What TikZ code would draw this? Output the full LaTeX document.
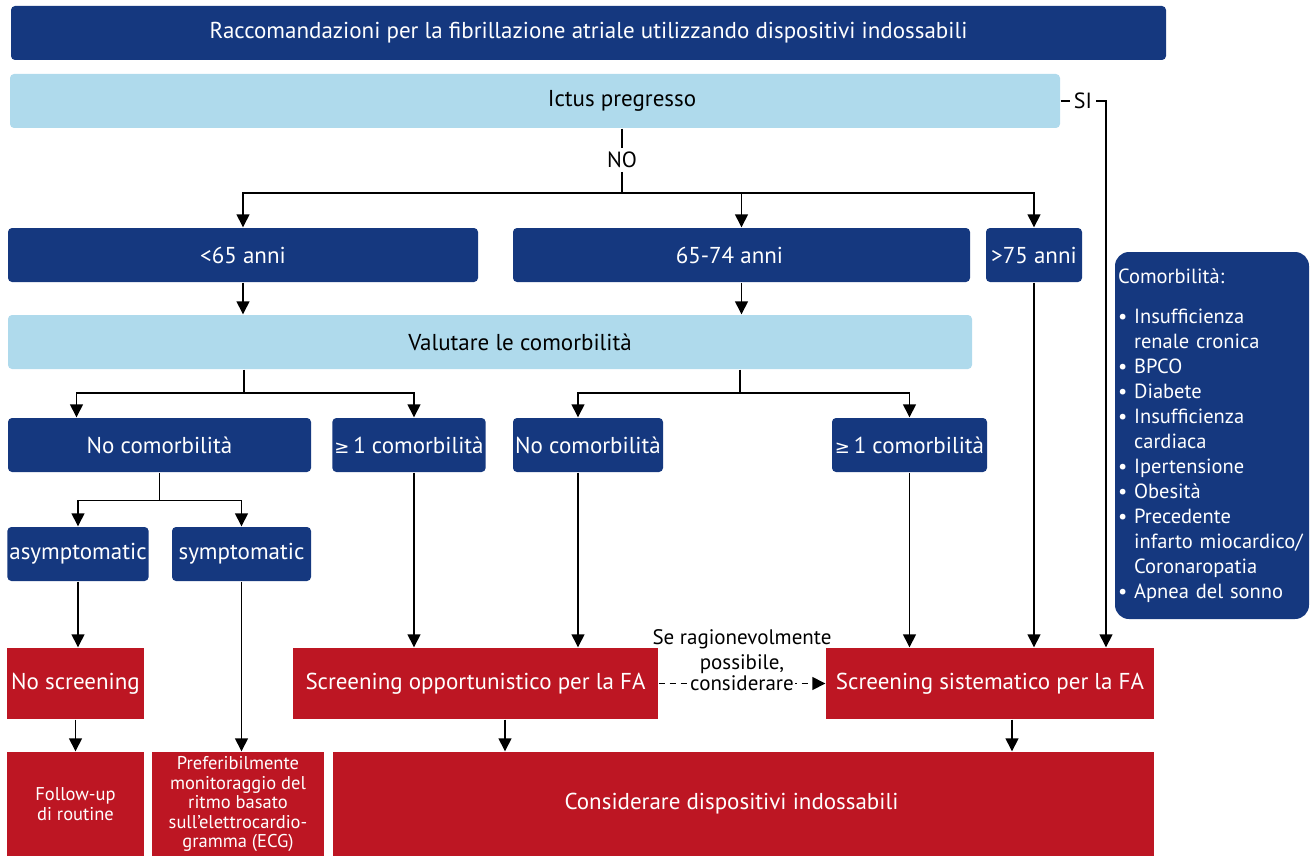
\documentclass[tikz,border=0pt]{standalone}
\usepackage{fontspec}
\setmainfont{PT Sans}
\newfontfamily\symfont{DejaVu Sans}
\usetikzlibrary{positioning,arrows.meta}
\definecolor{escblue}{RGB}{21,56,127}
\definecolor{esclight}{RGB}{175,218,236}
\definecolor{escred}{RGB}{189,22,35}
\tikzset{basic/.style={draw=none,text badly centered,inner sep=2pt,
                       minimum height=54pt,font=\fontsize{23}{27}\selectfont}}
\tikzset{darkbox/.style={basic,fill=escblue,text=white,rounded corners=4pt}}
\newcommand{\combul}{\textbullet\ }
\newcommand{\comind}{\hphantom{\textbullet\ }}

\begin{document}
\begin{tikzpicture}[x=1pt,y=-1pt,
    >={Triangle[length=13pt,width=13pt]},
    % styles for clarity
    lightbox/.style={basic,fill=esclight,text=black,rounded corners=4pt},
    redbox/.style  ={basic,fill=escred,text=white},
    smalltext/.style={font=\fontsize{18.5}{19.5}\selectfont,align=center},
    every path/.style={line width=1.4pt}
  ]
    \useasboundingbox (0,0) rectangle (1314,856);

    \node[darkbox, minimum width=1155pt](title) at (588.5,33)
      {Raccomandazioni per la fibrillazione atriale utilizzando dispositivi indossabili};
    \node[lightbox, minimum width=1050pt](ictus) at (535,101)
      {\hspace*{174pt}Ictus pregresso};

    % age groups
    \node[darkbox, minimum width=470pt](lt65) at (243,255) {<65 anni};
    \node[darkbox, minimum width=457pt](a6574) at (741.5,255) {65-74 anni\hspace*{24pt}};
    \node[darkbox, minimum width=96pt](gt75) at (1034,255) {>75 anni};

    \node[lightbox, minimum width=964pt](val) at (490,342)
      {\hspace*{60pt}Valutare le comorbilità};

    % comorbidity level
    \node[darkbox, minimum width=303pt](nocL) at (159.5,445) {No comorbilità};
    \node[darkbox, minimum width=152pt](oneL) at (409,445) {{\symfont\fontsize{18}{20}\selectfont ≥}\,1 comorbilità};
    \node[darkbox, minimum width=150pt](nocM) at (588,445) {No comorbilità};
    \node[darkbox, minimum width=155pt](oneR) at (909.5,445) {{\symfont\fontsize{18}{20}\selectfont ≥}\,1 comorbilità};

    \node[darkbox, minimum width=140pt](asym) at (78,554) {asymptomatic};
    \node[darkbox, minimum width=139pt](sym) at (241.5,554) {symptomatic};

    % screening
    \node[redbox, minimum width=137pt, minimum height=71pt](nos) at (75.5,683.5) {No screening};
    \node[redbox, minimum width=365pt, minimum height=71pt](opp) at (475.5,683.5)
      {Screening opportunistico per la FA};
    \node[redbox, minimum width=328pt, minimum height=71pt](sist) at (990,683.5)
      {Screening sistematico per la FA};

    \node[redbox, smalltext, minimum width=137pt, minimum height=104pt](fol) at (75.5,804)
      {Follow-up\\di routine};
    \node[redbox, smalltext, minimum width=172pt, minimum height=104pt](pref) at (238,804)
      {Preferibilmente\\monitoraggio del\\ritmo basato\\sull'elettrocardio-\\gramma (ECG)};
    \node[redbox, minimum width=821pt, minimum height=104pt](cons) at (743.5,804)
      {Considerare dispositivi indossabili\hspace*{24pt}};

    % list of comorbidities
    \node[darkbox, rounded corners=14pt, minimum width=194pt, minimum height=367pt,
          text width=188pt, align=left,
          font=\fontsize{20.5}{25}\selectfont](comlist) at (1212,435.5)
      {Comorbilità:\\[15pt]
       \combul Insufficienza\\
       \comind renale cronica\\
       \combul BPCO\\
       \combul Diabete\\
       \combul Insufficienza\\
       \comind cardiaca\\
       \combul Ipertensione\\
       \combul Obesità\\
       \combul Precedente\\
       \comind \mbox{infarto miocardico/}\\
       \comind Coronaropatia\\
       \combul Apnea del sonno};

    % NO / SI branches
    \node[font=\fontsize{22}{24}\selectfont](no) at (622,160) {NO};
    \node[font=\fontsize{22}{24}\selectfont](si) at (1083,101) {SI};

    \draw (ictus.south -| no) -- (no);
    \draw (no) -- ++(0,33) coordinate (s1);
    \draw[->] (s1) -| (lt65);
    \draw[->] (s1) -| (a6574);
    \draw[->] (s1) -| (gt75);

    \draw (ictus.east) -- (si);
    \coordinate (siend) at ([xshift=116pt]sist.north);
    \draw[->] (si) -| (siend);

    % ages to assessment
    \draw[->] (lt65) -- (lt65 |- val.north);
    \draw[->] (a6574) -- (a6574 |- val.north);

    \coordinate (s2) at (244,393);
    \coordinate (s3) at (740,393);
    \coordinate (inL) at ([xshift=-83pt]nocL.north);
    \coordinate (inO) at ([xshift=5pt]oneL.north);
    \coordinate (inM) at ([xshift=-10pt]nocM.north);
    \draw (val.south -| s2) -- (s2);
    \draw[->] (s2) -| (inL);
    \draw[->] (s2) -| (inO);
    \draw (val.south -| s3) -- (s3);
    \draw[->] (s3) -| (inM);
    \draw[->] (s3) -| (oneR);

    % symptoms
    \draw (nocL.south) -- ++(0,28) coordinate (s4);
    \draw[->] (s4) -| (asym);
    \draw[->] (s4) -| (sym);

    % down to screening
    \draw[->] (asym) -- (asym |- nos.north);
    \draw[->] (sym) -- (sym |- pref.north);
    \coordinate (outO) at ([xshift=5pt]oneL.south);
    \coordinate (outM) at ([xshift=-10pt]nocM.south);
    \draw[->] (outO) -- (outO |- opp.north);
    \draw[->] (outM) -- (outM |- opp.north);
    \draw[->] (oneR) -- (oneR |- sist.north);
    \draw[->] (gt75) -- (gt75 |- sist.north);

    % dashed suggestion
    \draw[->, dash pattern=on 6pt off 5pt] (opp) --
      node[fill=white, inner sep=1pt, font=\fontsize{21}{25}\selectfont](consid){considerare} (sist);
    \node[above=-3pt of consid, align=center, font=\fontsize{21}{25}\selectfont](seposs)
      {Se ragionevolmente\\possibile,};

    % to final boxes
    \coordinate (outP) at ([xshift=29.5pt]opp.south);
    \coordinate (outS) at ([xshift=22pt]sist.south);
    \draw[->] (nos) -- (fol);
    \draw[->] (outP) -- (outP |- cons.north);
    \draw[->] (outS) -- (outS |- cons.north);
  \end{tikzpicture}
\end{document}
